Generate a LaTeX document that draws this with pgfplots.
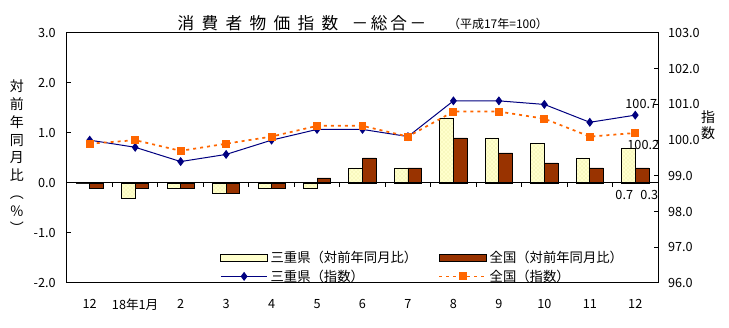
\documentclass[border=0pt]{standalone}
\usepackage{fontspec}
\setmainfont{Noto Sans CJK JP}
\usepackage{pgfplots}
\pgfplotsset{compat=1.18}
\usetikzlibrary{patterns}
\definecolor{mieY}{RGB}{255,255,204}
\definecolor{mieDot}{RGB}{232,232,150}
\definecolor{natB}{RGB}{153,51,0}
\definecolor{navyL}{RGB}{0,0,128}
\definecolor{orgL}{RGB}{255,102,0}
\pgfplotsset{
  common/.style={
    width=443.25pt, height=187.5pt, scale only axis,
    at={(0,0)}, anchor=south west,
    xmin=-0.5, xmax=12.5,
    /pgf/number format/assume math mode=true,
    tick label style={font=\fontsize{9.5}{11}\selectfont},
    major tick length=3pt, tick align=inside,
    tick style={black, line width=0.75pt},
    axis line style={line width=0.75pt},
  },
  barleg/.style={legend image code/.code={\draw[##1] (0pt,-2.5pt) rectangle (35pt,2.5pt);}},
  lineleg/.style={legend image code/.code={\draw[mark repeat=2, mark phase=2, ##1] plot coordinates {(0pt,0pt) (17.5pt,0pt) (35pt,0pt)};}},
}
\begin{document}
\begin{tikzpicture}
\useasboundingbox (-50.25pt,-33.75pt) rectangle (496.5pt,212.25pt);
% bars, left axis
\begin{axis}[common,
  ymin=-2, ymax=3, ytick={-2,-1,0,1,2,3}, ytick pos=left,
  yticklabel style={xshift=-5pt, /pgf/number format/fixed, /pgf/number format/fixed zerofill, /pgf/number format/precision=1},
  xtick={0,...,12},
  xticklabels={12,18年1月,2,3,4,5,6,7,8,9,10,11,12},
  xtick style={draw=none},
  xticklabel style={yshift=-8.5pt},
]
\addplot[ybar, bar width=0.3, bar shift=-0.15, fill=mieY, draw=black, line width=0.6pt,
  postaction={pattern=crosshatch dots, pattern color=mieDot}]
  coordinates {(0,0.0) (1,-0.3) (2,-0.1) (3,-0.2) (4,-0.1) (5,-0.1) (6,0.3) (7,0.3) (8,1.3) (9,0.9) (10,0.8) (11,0.5) (12,0.7)};
\addplot[ybar, bar width=0.3, bar shift=0.15, fill=natB, draw=black, line width=0.6pt]
  coordinates {(0,-0.1) (1,-0.1) (2,-0.1) (3,-0.2) (4,-0.1) (5,0.1) (6,0.5) (7,0.3) (8,0.9) (9,0.6) (10,0.4) (11,0.3) (12,0.3)};
\draw[line width=0.75pt] (axis cs:-0.5,0) -- (axis cs:12.5,0);
\pgfplotsinvokeforeach{0.5,1.5,2.5,3.5,4.5,5.5,6.5,7.5,8.5,9.5,10.5,11.5}{
  \draw[line width=0.75pt] (axis cs:#1,0) -- ++(0pt,-3pt);
}
\node[font=\fontsize{9.5}{11}\selectfont, inner sep=0pt] at (axis cs:12,0) [xshift=-8.25pt, yshift=-9pt] {0.7};
\node[font=\fontsize{9.5}{11}\selectfont, inner sep=0pt] at (axis cs:12,0) [xshift=10.5pt, yshift=-9pt] {0.3};
\end{axis}
% index lines, right axis
\begin{axis}[common,
  ymin=96, ymax=103, ytick={96,97,...,103},
  axis y line*=right, axis x line=none,
  yticklabel style={xshift=4pt, /pgf/number format/fixed, /pgf/number format/fixed zerofill, /pgf/number format/precision=1},
  legend columns=2,
  legend cell align=left,
  legend style={draw=none, fill=none, at={(0.2589,0.14)}, anchor=north west,
    font=\fontsize{10}{12}\selectfont, inner sep=0pt, row sep=0pt,
    /tikz/every even column/.append style={column sep=14pt}},
]
\addlegendimage{barleg, fill=mieY, draw=black, line width=0.6pt}
\addlegendentry{三重県（対前年同月比）}
\addlegendimage{barleg, fill=natB, draw=black, line width=0.6pt}
\addlegendentry{全国（対前年同月比）}
\addplot[lineleg, navyL, line width=0.75pt, mark=diamond*, mark size=2.8pt, mark options={fill=navyL, draw=navyL}]
  coordinates {(0,100.0) (1,99.8) (2,99.4) (3,99.6) (4,100.0) (5,100.3) (6,100.3) (7,100.1) (8,101.1) (9,101.1) (10,101.0) (11,100.5) (12,100.7)};
\addlegendentry{三重県（指数）}
\addplot[lineleg, orgL, line width=1.3pt, dash pattern=on 2.25pt off 3pt, mark=square*, mark size=2.6pt, mark options={solid, fill=orgL, draw=orgL, line width=0pt}]
  coordinates {(0,99.9) (1,100.0) (2,99.7) (3,99.9) (4,100.1) (5,100.4) (6,100.4) (7,100.1) (8,100.8) (9,100.8) (10,100.6) (11,100.1) (12,100.2)};
\addlegendentry{全国（指数）}
\node[font=\fontsize{9.5}{11}\selectfont, inner sep=0pt] at (axis cs:12,100.7) [xshift=4.5pt, yshift=8.4pt] {100.7};
\node[font=\fontsize{9.5}{11}\selectfont, inner sep=0pt] at (axis cs:12,100.2) [xshift=6pt, yshift=-9.3pt] {100.2};
\end{axis}
% titles and axis labels
\node[font=\fontsize{12.5}{14}\selectfont, inner sep=0pt] at (176.25pt,194.6pt)
  {消\hspace{5.5pt}費\hspace{5.5pt}者\hspace{5.5pt}物\hspace{5.5pt}価\hspace{5.5pt}指\hspace{5.5pt}数\hspace{10pt}－\hspace{2pt}総\hspace{2pt}合\hspace{2pt}－};
\node[font=\fontsize{9}{11}\selectfont, inner sep=0pt] at (323.25pt,194.25pt) {（平成17年=100）};
\node[font=\fontsize{10.5}{13.3}\selectfont, inner sep=0pt, align=center] at (-37.5pt,94.5pt)
  {対\\前\\年\\同\\月\\比\\︵\\％\\︶};
\node[font=\fontsize{10.5}{11.7}\selectfont, inner sep=0pt, align=center] at (480.75pt,118.5pt)
  {指\\数};
\end{tikzpicture}
\end{document}
